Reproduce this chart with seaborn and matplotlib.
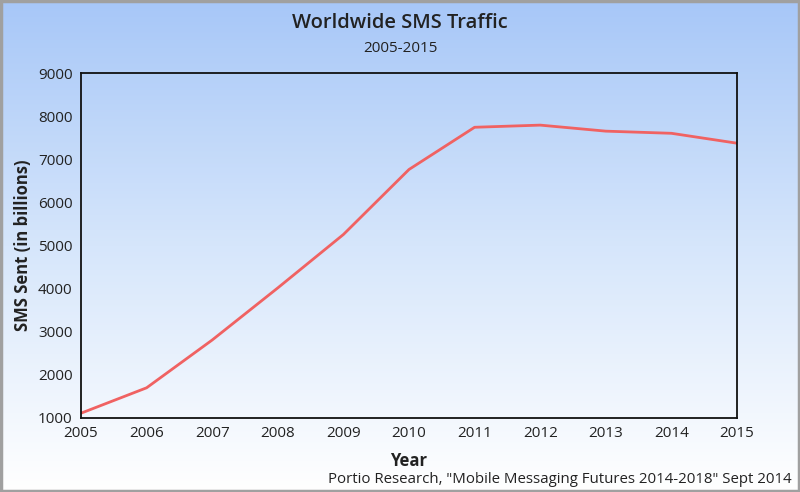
import matplotlib
matplotlib.use("Agg")
import matplotlib.pyplot as plt
import seaborn as sns
import numpy as np
import pandas as pd
from matplotlib.colors import LinearSegmentedColormap

years = [2005, 2006, 2007, 2008, 2009, 2010, 2011, 2012, 2013, 2014, 2015]
sms_billions = [1100, 1690, 2800, 4010, 5250, 6760, 7740, 7790, 7650, 7600, 7370]
y_ticks = [1000, 2000, 3000, 4000, 5000, 6000, 7000, 8000, 9000]

df = pd.DataFrame({"Year": years, "SMS": sms_billions})

sns.set_theme(style="white")
plt.rcParams['font.family'] = ['Open Sans', 'DejaVu Sans']

fig = plt.figure(figsize=(8, 4.92), dpi=100)

# gradient background
bg = fig.add_axes([0, 0, 1, 1], zorder=-10)
cmap = LinearSegmentedColormap.from_list("bg", ["#a7c7f8", "#d6e6fb", "#ffffff"])
grad = np.linspace(0, 1, 256).reshape(-1, 1)
bg.imshow(grad, aspect="auto", cmap=cmap, extent=[0, 1, 0, 1], origin="upper")
bg.set_axis_off()
# outer border
bg.add_patch(plt.Rectangle((0.001, 0.002), 0.998, 0.996, transform=bg.transAxes,
                           fill=False, edgecolor="#a0a0a0", linewidth=2.5))

ax = fig.add_axes([0.10125, 0.1514, 0.82, 0.7002])
ax.set_facecolor("none")
sns.lineplot(data=df, x="Year", y="SMS", ax=ax, color="#f06262", linewidth=2)

ax.set_xlim(2005, 2015)
ax.set_ylim(1000, 9000)
ax.set_xticks(years)
ax.set_yticks(y_ticks)
ax.set_xticklabels([str(y) for y in years], fontsize=11, color="#222222")
ax.set_yticklabels([str(v) for v in y_ticks], fontsize=11, color="#222222")
ax.tick_params(axis="both", length=0, pad=6)
for s in ax.spines.values():
    s.set_color("#111111")
    s.set_linewidth(1.3)

ax.set_xlabel("Year", fontsize=12, fontweight="bold", color="#222222", labelpad=8)
ax.set_ylabel("SMS Sent (in billions)", fontsize=12, fontweight="bold", color="#222222", labelpad=4)

fig.text(0.5, 0.953, "Worldwide SMS Traffic", ha="center", va="center",
         fontsize=14.5, fontweight="semibold", color="#222222")
fig.text(0.5, 0.902, "2005-2015", ha="center", va="center", fontsize=11, color="#222222")
fig.text(0.99, 0.025, "Portio Research, \"Mobile Messaging Futures 2014-2018\" Sept 2014",
         ha="right", va="center", fontsize=10.8, color="#222222")

fig.savefig("out.png", dpi=100)
